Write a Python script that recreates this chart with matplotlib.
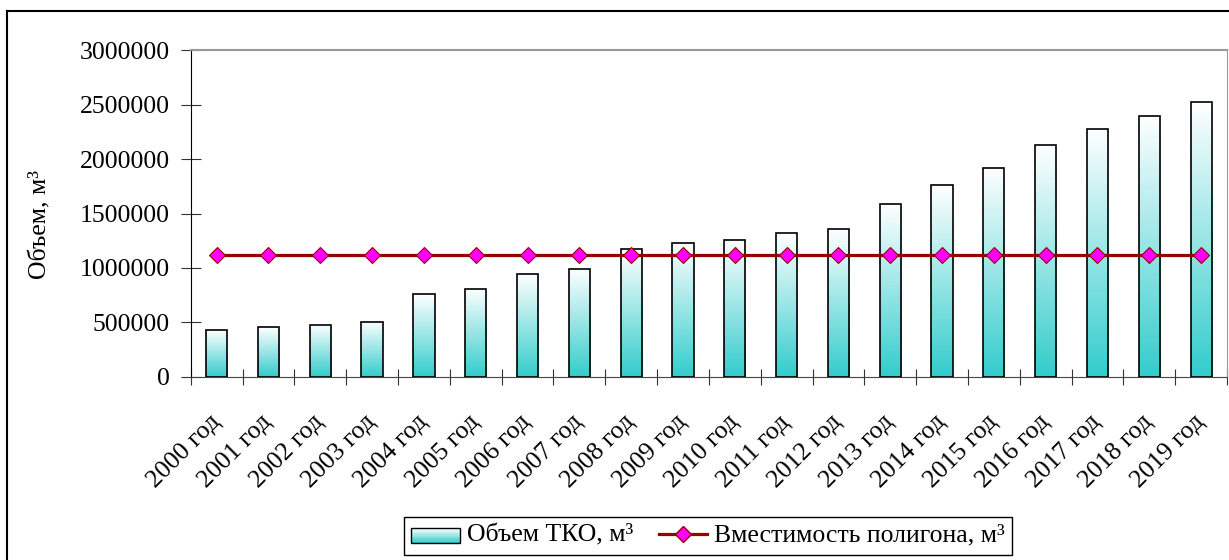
import numpy as np
import matplotlib
matplotlib.use('Agg')
import matplotlib.pyplot as plt
from matplotlib.patches import Rectangle
from matplotlib.legend_handler import HandlerBase
from matplotlib.lines import Line2D
from matplotlib.colors import LinearSegmentedColormap

# Данные
years = [f'{y} год' for y in range(2000, 2020)]
volume_tko = [431000, 456000, 480000, 505000, 761000, 810000, 945000, 994000,
              1171000, 1232000, 1257000, 1318000, 1355000, 1587000, 1759000,
              1920000, 2128000, 2275000, 2397000, 2523000]
capacity = [1118000] * 20
y_ticks = [0, 500000, 1000000, 1500000, 2000000, 2500000, 3000000]

teal = '#33CCCC'
grad = LinearSegmentedColormap.from_list('grad', [teal, '#ffffff'])

plt.rcParams['font.family'] = ['Liberation Serif', 'DejaVu Serif']
plt.rcParams['font.size'] = 18.5

fig = plt.figure(figsize=(12.29, 5.6), dpi=100)
ax = fig.add_axes([0.1552, 0.3268, 0.8432, 0.5839])

x = np.arange(len(years))
w = 0.41
bars = ax.bar(x, volume_tko, width=w, facecolor='none', edgecolor='black',
              linewidth=1.2, zorder=3)
# градиентная заливка столбцов
g = np.linspace(0, 1, 256).reshape(-1, 1)
for b in bars:
    ax.imshow(g, cmap=grad, origin='lower', aspect='auto', zorder=2,
              extent=[b.get_x(), b.get_x() + b.get_width(), 0, b.get_height()])

ax.plot(x, capacity, color='#990000', linewidth=2.3, marker='D', markersize=8.5,
        markerfacecolor='#FF00FF', markeredgecolor='#990000', markeredgewidth=0.8,
        zorder=4)

ax.set_xlim(-0.5, len(years) - 0.5)
ax.set_ylim(0, 3000000)
ax.set_yticks(y_ticks)
ax.set_yticklabels([str(v) for v in y_ticks])
ax.set_xticks(np.arange(len(years) + 1) - 0.5)
ax.set_xticklabels([])
ax.set_xticks(x, minor=True)
ax.set_xticklabels(years, minor=True, rotation=45, ha='right', va='center',
                   rotation_mode='anchor')
ax.tick_params(axis='x', which='minor', length=0, pad=30)
ax.tick_params(axis='x', which='major', direction='inout', length=12, color='#333333')
ax.tick_params(axis='y', direction='inout', length=14, color='#333333', pad=8)

ax.spines['left'].set_color('black')
ax.spines['bottom'].set_color('#444444')
ax.spines['top'].set_color('#999999')
ax.spines['top'].set_linewidth(1.5)
ax.spines['right'].set_color('#999999')

ax.set_ylabel('Объем, м³')
ax.yaxis.set_label_coords(-0.134, 0.465)


class GradientHandler(HandlerBase):
    def create_artists(self, legend, orig_handle, xd, yd, width, height, fontsize, trans):
        arts = []
        n = 12
        for i in range(n):
            r = Rectangle((xd, yd + height * i / n), width, height / n,
                          facecolor=grad(i / (n - 1)), edgecolor='none', transform=trans)
            arts.append(r)
        arts.append(Rectangle((xd, yd), width, height, facecolor='none',
                              edgecolor='black', linewidth=1, transform=trans))
        return arts


h1 = Rectangle((0, 0), 1, 1)
h2 = Line2D([], [], color='#990000', linewidth=2.3, marker='D', markersize=8.5,
            markerfacecolor='#FF00FF', markeredgecolor='#990000')
leg = ax.legend([h1, h2], ['Объем ТКО, м³', 'Вместимость полигона, м³'],
                handler_map={Rectangle: GradientHandler()}, ncol=2,
                loc='center', bbox_to_anchor=(708 / 1229, 0.043), bbox_transform=fig.transFigure,
                frameon=True, fancybox=False, edgecolor='black', framealpha=1,
                borderpad=0.3, handlelength=1.9, handleheight=0.55, handletextpad=0.25,
                columnspacing=1.0, borderaxespad=0)
leg.get_frame().set_linewidth(1)

# внешняя рамка
fig.add_artist(Line2D([7 / 1229, 7 / 1229], [0, 1 - 11 / 560], color='black', linewidth=1.5,
                      transform=fig.transFigure))
fig.add_artist(Line2D([7 / 1229, 1], [1 - 11 / 560, 1 - 11 / 560], color='black', linewidth=1.5,
                      transform=fig.transFigure))

fig.savefig('out.png', dpi=100)
